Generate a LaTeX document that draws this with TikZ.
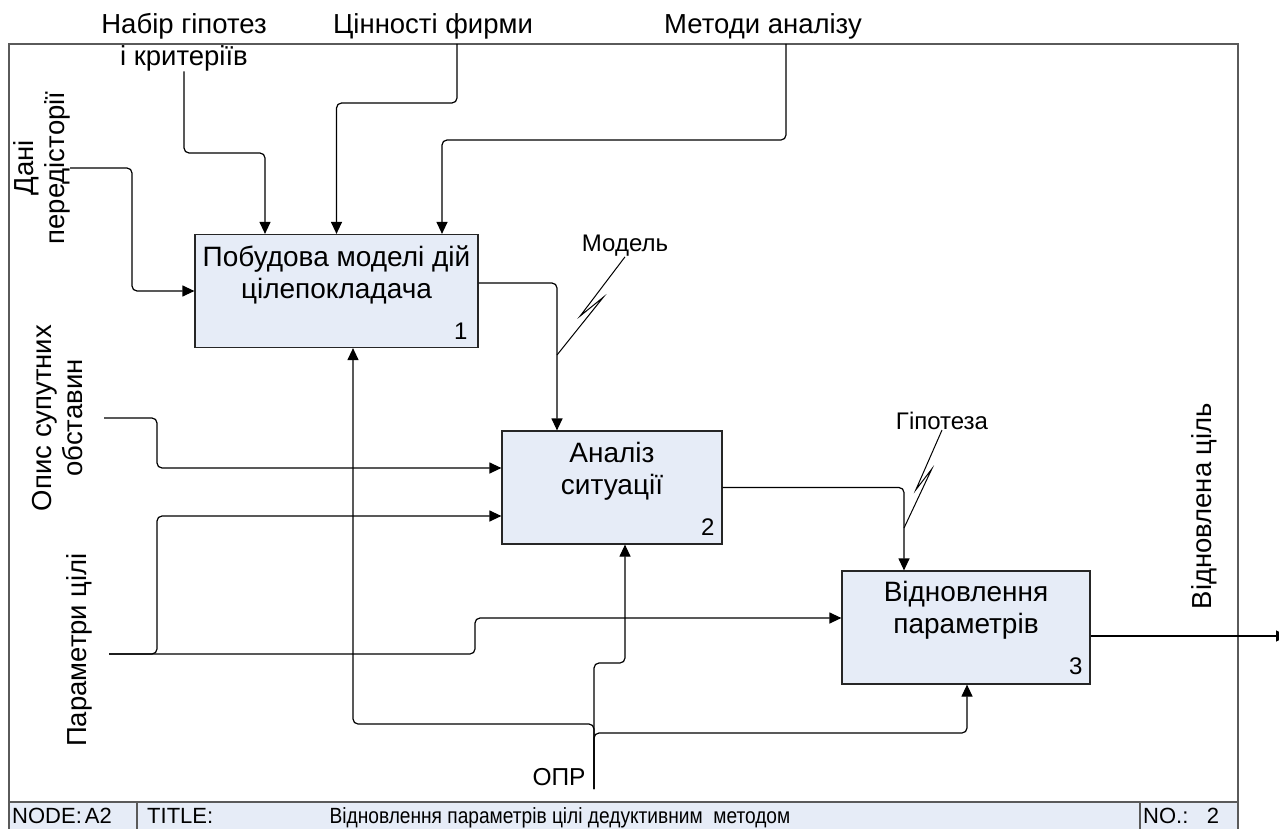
\documentclass[tikz,border=0pt]{standalone}
\usepackage{fontspec}
\setmainfont{Liberation Sans}
\newfontfamily\narrowsans[FakeStretch=0.87]{Liberation Sans}
\usepackage{tikz}
\usetikzlibrary{arrows.meta,positioning,calc}
\definecolor{boxblue}{RGB}{230,236,247}
\definecolor{framegray}{RGB}{90,90,90}

\begin{document}
\begin{tikzpicture}[x=1pt, y=-1pt, font=\fontsize{27.5}{31}\selectfont,
  act/.style={draw=black!85, fill=boxblue, line width=1.2pt, minimum height=113pt, inner sep=0pt},
  acttxt/.style={align=center, inner sep=0pt, font=\fontsize{28}{32}\selectfont},
  num/.style={inner sep=0pt, font=\fontsize{24}{28}\selectfont},
  lbl/.style={align=center, inner sep=0pt},
  small/.style={inner sep=0pt, font=\fontsize{24}{28}\selectfont},
  bar/.style={inner sep=0pt, font=\fontsize{22}{26}\selectfont},
  arr/.style={-{Triangle[length=12pt,width=11pt]}, line width=1.2pt, rounded corners=5pt},
  squig/.style={line width=1pt},
  frame/.style={draw=framegray, line width=1.5pt}]
  \useasboundingbox (0,0) rectangle (1279,829);

  % frame and title bar
  \fill[boxblue] (9,802) rectangle (1238,830);
  \draw[frame] (9,830) -- (9,44) -- (1238,44) -- (1238,830);
  \draw[frame] (9,802) -- (1238,802) (137,802) -- (137,830) (1140,802) -- (1140,830);
  \node[bar, anchor=base west] (nodecell) at (12,823) {NODE:\hspace{3pt}A2};
  \node[bar, anchor=base west] (titlecell) at (147,823) {TITLE:};
  \node[bar, anchor=base] (titletext) at (560,823) {\narrowsans Відновлення параметрів цілі дедуктивним\ \ методом};
  \node[bar, anchor=base west] (nocell) at (1143,823) {NO.:};
  \node[bar, anchor=base] (nonum) at (1213,823) {2};

  % activities
  \node[act, minimum width=283pt] (b1) at (336.5,291) {};
  \node[act, minimum width=220pt] (b2) at (612,487.5) {};
  \node[act, minimum width=248pt] (b3) at (966,627.5) {};
  \node[acttxt, below=12pt of b1.north] (b1t) {Побудова моделі дій\\цілепокладача};
  \node[acttxt, below=12pt of b2.north] (b2t) {Аналіз\\ситуації};
  \node[acttxt, below=11pt of b3.north] (b3t) {Відновлення\\параметрів};
  \node[num, above left=8pt and 11pt of b1.south east] (b1n) {1};
  \node[num, above left=9pt and 8pt of b2.south east] (b2n) {2};
  \node[num, above left=10pt and 8pt of b3.south east] (b3n) {3};

  % labels
  \node[lbl, anchor=north, font=\fontsize{27.5}{32}\selectfont] (hyp) at (184,13) {Набір гіпотез\\і критеріїв};
  \node[lbl, anchor=north] (val) at (433,13) {Цінності фирми};
  \node[lbl, anchor=north] (meth) at (763,13) {Методи аналізу};
  \node[lbl, rotate=90, anchor=south] (dani) at (70,168) {Дані\\передісторії};
  \node[lbl, rotate=90] (opys) at (58,418) {Опис супутних\\обставин};
  \node[lbl, rotate=90] (par) at (79,650) {Параметри цілі};
  \node[lbl, rotate=90] (goal) at (1204,506) {Відновлена ціль};
  \node[lbl, font=\fontsize{24.5}{28}\selectfont] (opr) at (559,777) {ОПР};
  \node[small] (model) at (625,246) {Модель};
  \node[small] (hypo) at (942,421) {Гіпотеза};

  \coordinate (valin) at (457,44);
  \coordinate (methin) at (786,44);
  \coordinate (opysin) at (104,418);
  \coordinate (parin) at (109,654);
  \coordinate (oprin) at (594,789);
  \coordinate (outend) at (1288,636);
  \coordinate (mdlpt) at (557,355);
  \coordinate (hyppt) at (904,528);

  % controls
  \draw[arr] (hyp.south) |- (265,153) -- ([xshift=-71.5pt]b1.north);
  \draw[arr] (valin) |- (336.5,103) -- (b1.north);
  \draw[arr] (methin) |- (442,140) -- ([xshift=105.5pt]b1.north);
  % inputs
  \draw[arr] (dani.south) -| (132,291) -- (b1.west);
  \draw[arr] (opysin) -| (157,468) -- ([yshift=19.5pt]b2.west);
  \draw[arr] (parin) -| (157,516) -- ([yshift=-28.5pt]b2.west);
  \draw[arr] (parin) -| (475,618) -- ([yshift=9.5pt]b3.west);
  % between activities
  \draw[arr] ([yshift=8pt]b1.east) -| ([xshift=-55pt]b2.north);
  \draw[arr] (b2.east) -| ([xshift=-62pt]b3.north);
  \draw[arr] ([yshift=-8.5pt]b3.east) -- (outend);
  % mechanism
  \draw[arr] (oprin) |- (625,663) -- ([xshift=13pt]b2.south);
  \draw[arr] (oprin) |- (353,724) -- ([xshift=16.5pt]b1.south);
  \draw[arr] (oprin) |- (967,733) -- ([xshift=1pt]b3.south);

  % squiggles
  \draw[squig] (mdlpt) -- ($(mdlpt)!0.62!-4:(model.south)$) -- ($(mdlpt)!0.38!4:(model.south)$) -- (model.south);
  \draw[squig] (hyppt) -- ($(hyppt)!0.62!-4:(hypo.south)$) -- ($(hyppt)!0.38!4:(hypo.south)$) -- (hypo.south);
\end{tikzpicture}
\end{document}
